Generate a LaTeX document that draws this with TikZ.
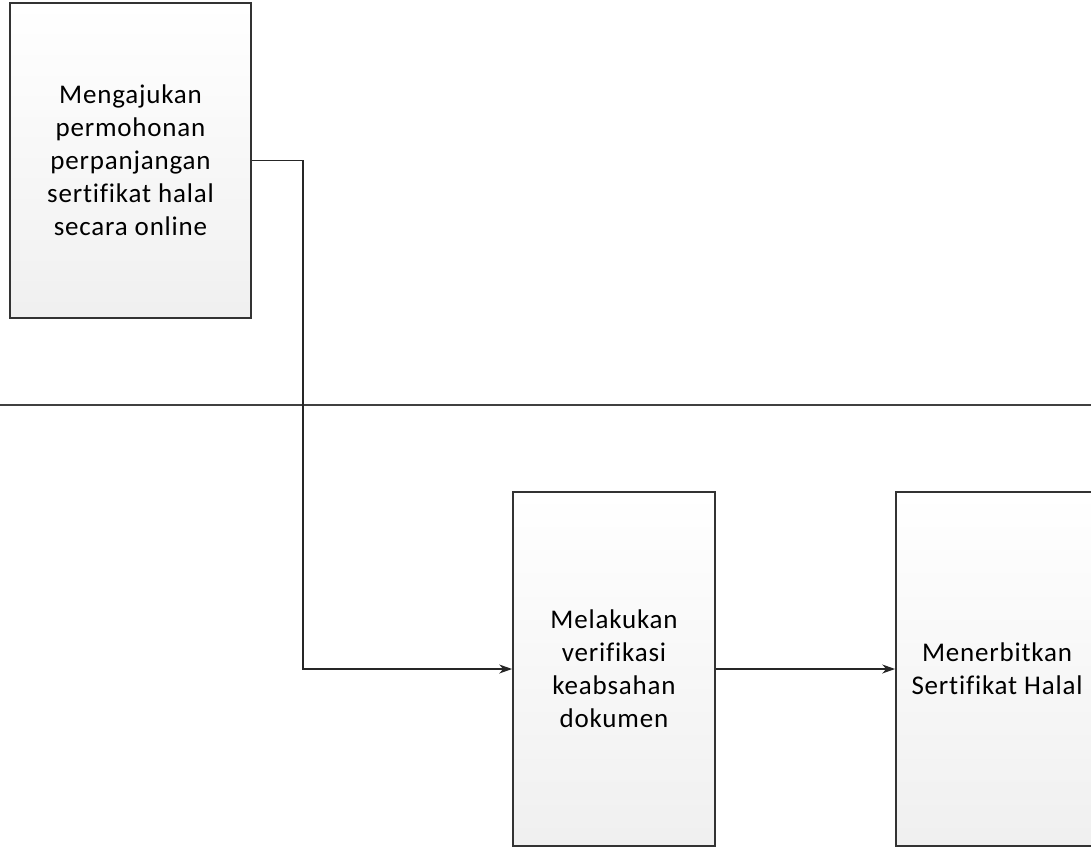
\documentclass[tikz,border=0pt]{standalone}
\usepackage{fontspec}
\setmainfont{Carlito}[Ligatures=NoCommon, LetterSpace=3]
\usetikzlibrary{arrows.meta}

\begin{document}
\begin{tikzpicture}[
  x=1pt, y=-1pt,
  task/.style   = {draw=black!80, line width=1.7pt, align=center,
                   top color=white, bottom color=black!6,
                   font=\fontsize{27}{33}\selectfont, inner sep=4pt},
  lane/.style   = {draw=black!75, line width=1.5pt},
  flow/.style   = {draw=black!85, line width=1.7pt,
                   -{Stealth[length=13pt,width=9pt]}},
                   % the first leg leaves box one and turns down across the lane
]
  \useasboundingbox (0,0) rectangle (1091,848);
  \clip (0,0) rectangle (1091,848);

  % the lane divider runs the full width
  \coordinate (laneL) at (0,405);
  \coordinate (laneR) at (1091,405);
  \draw[lane] (laneL) -- (laneR);

  \node[task, minimum width=241pt, minimum height=315pt] (ajukan) at (130.5,160.5)
    {Mengajukan\\permohonan\\perpanjangan\\sertifikat halal\\secara online};
  \node[task, minimum width=202pt, minimum height=354pt] (verif) at (614,669)
    {Melakukan\\verifikasi\\keabsahan\\dokumen};
  \node[task, minimum width=202pt, minimum height=354pt] (terbit) at (997,669)
    {Menerbitkan\\Sertifikat Halal};

  \coordinate (bend) at (303,160.5);
  \draw[flow] (ajukan.east) -- (bend) |- (verif.west);
  \draw[flow] (verif) -- (terbit);
\end{tikzpicture}
\end{document}
